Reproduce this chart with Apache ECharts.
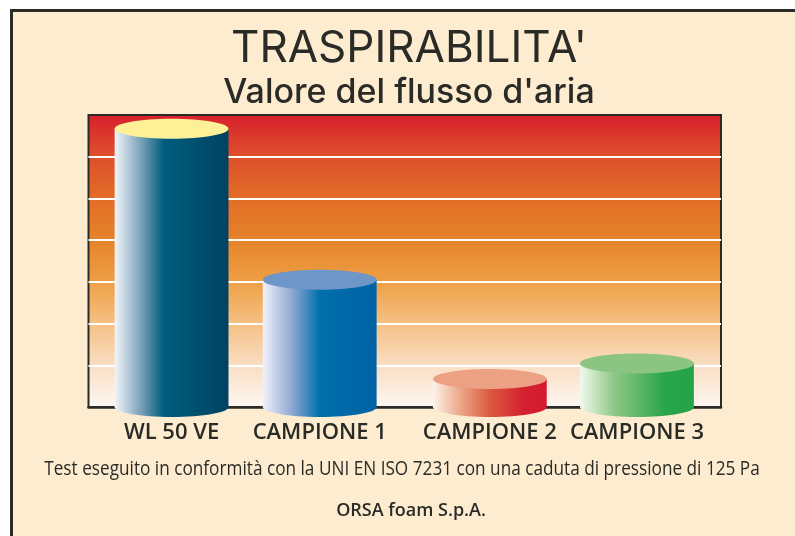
<!DOCTYPE html>
<html lang="it">
<head>
    <meta charset="UTF-8">
    <title>Traspirabilita'</title>
    <script src="https://cdn.jsdelivr.net/npm/echarts@6/dist/echarts.min.js"></script>
    <style>
        html, body { margin: 0; padding: 0; background: #fff; }
    </style>
</head>
<body>
    <div id="main" style="width: 795px;height:536px;"></div>

    <script>
        var categories = ['WL 50 VE', 'CAMPIONE 1', 'CAMPIONE 2', 'CAMPIONE 3'];
        var airFlow = [6.67, 3.05, 0.67, 1.04];

        // colonne non equidistanti nell'originale: spostamento in px dal centro della banda
        var shiftPx = [4, -6, 6, -5];
        var topColors = ['#fdf096', '#6f96c8', '#eda184', '#8cc483'];
        var sideStops = [
            [[0, '#f2f5fa'], [0.25, '#709ab3'], [0.43, '#005d7f'], [1, '#004261']],
            [[0, '#f0f2fa'], [0.25, '#93a9d2'], [0.5, '#0070ab'], [1, '#0062a5']],
            [[0, '#fdf3ea'], [0.25, '#eba585'], [0.5, '#da5a3e'], [0.8, '#d5202f'], [1, '#d5192f']],
            [[0, '#f1f9ee'], [0.3, '#8fc785'], [0.75, '#28a54a'], [1, '#25a348']]
        ];
        var textColor = '#2a2b26';

        function sideGradient(i) {
            return new echarts.graphic.LinearGradient(0, 0, 1, 0, sideStops[i].map(function (s) {
                return { offset: s[0], color: s[1] };
            }));
        }

        function renderCylinder(params, api) {
            var i = api.value(0);
            var top = api.coord([i, api.value(1)]);
            var base = api.coord([i, 0]);
            var cx = top[0] + shiftPx[i];
            var rx = api.size([1, 0])[0] * 0.36;
            var ry = 10;
            var fill = sideGradient(i);
            return {
                type: 'group',
                children: [
                    { type: 'ellipse', shape: { cx: cx, cy: base[1], rx: rx, ry: ry }, style: { fill: fill } },
                    { type: 'rect', shape: { x: cx - rx, y: top[1], width: rx * 2, height: base[1] - top[1] }, style: { fill: fill } },
                    { type: 'ellipse', shape: { cx: cx, cy: top[1], rx: rx, ry: ry }, style: { fill: topColors[i] } }
                ]
            };
        }

        var myChart = echarts.init(document.getElementById('main'));
        var option = {
            animation: false,
            backgroundColor: '#fff',
            graphic: [
                {
                    // cornice: solo lati sinistro e superiore restano nel riquadro
                    type: 'rect',
                    z: -10,
                    shape: { x: 11.5, y: 10.5, width: 900, height: 900 },
                    style: { fill: '#fdecd0', stroke: textColor, lineWidth: 3 }
                },
                {
                    // testo stretto: nessun font condensed installato, si scala in orizzontale
                    type: 'text',
                    x: 402,
                    y: 469,
                    scaleX: 0.86,
                    style: {
                        text: 'Test eseguito in conformità con la UNI EN ISO 7231 con una caduta di pressione di 125 Pa',
                        font: '400 20px "Open Sans"',
                        fill: textColor,
                        align: 'center',
                        verticalAlign: 'middle'
                    }
                }
            ],
            title: [
                {
                    text: "TRASPIRABILITA'",
                    left: 404, top: 22, textAlign: 'center',
                    textStyle: { fontFamily: 'Inter', fontWeight: 'normal', fontSize: 44, color: textColor }
                },
                {
                    text: "Valore del flusso d'aria",
                    left: 404, top: 71, textAlign: 'center',
                    textStyle: { fontFamily: 'Inter', fontWeight: 500, fontSize: 34, color: textColor }
                },
                {
                    text: 'ORSA foam S.p.A.',
                    left: 406, top: 497, textAlign: 'center',
                    textStyle: { fontFamily: 'Open Sans', fontWeight: 600, fontSize: 18, color: textColor }
                }
            ],
            grid: {
                left: 88.5, right: 74, top: 115, height: 292,
                show: true,
                borderColor: textColor,
                borderWidth: 2,
                backgroundColor: new echarts.graphic.LinearGradient(0, 0, 0, 1, [
                    { offset: 0, color: '#d81f2d' },
                    { offset: 0.14, color: '#dd4f2c' },
                    { offset: 0.29, color: '#e36d27' },
                    { offset: 0.43, color: '#e5842a' },
                    { offset: 0.57, color: '#ee9f45' },
                    { offset: 0.71, color: '#f5c083' },
                    { offset: 0.86, color: '#f9dfc5' },
                    { offset: 1, color: '#fef8f2' }
                ])
            },
            xAxis: {
                type: 'category',
                data: categories.map(function (name, i) {
                    // padding su un lato per spostare l'etichetta sotto la sua colonna
                    var s = shiftPx[i] * 2;
                    return { value: name, textStyle: { padding: s > 0 ? [0, 0, 0, s] : [0, -s, 0, 0] } };
                }),
                axisLine: { lineStyle: { color: textColor, width: 2.5 } },
                axisTick: { show: false },
                axisLabel: {
                    margin: 15,
                    interval: 0,
                    fontFamily: 'Open Sans',
                    fontWeight: 600,
                    fontSize: 22,
                    color: textColor
                }
            },
            yAxis: {
                type: 'value',
                min: 0,
                max: 7,
                interval: 1,
                axisLine: { show: false },
                axisTick: { show: false },
                axisLabel: { show: false },
                splitLine: {
                    show: true,
                    showMinLine: false,
                    showMaxLine: false,
                    lineStyle: { color: '#ffffff', width: 2 }
                }
            },
            series: [{
                type: 'custom',
                renderItem: renderCylinder,
                encode: { x: 0, y: 1 },
                data: airFlow.map(function (v, i) { return [i, v]; })
            }]
        };

        myChart.setOption(option);
    </script>
</body>
</html>
